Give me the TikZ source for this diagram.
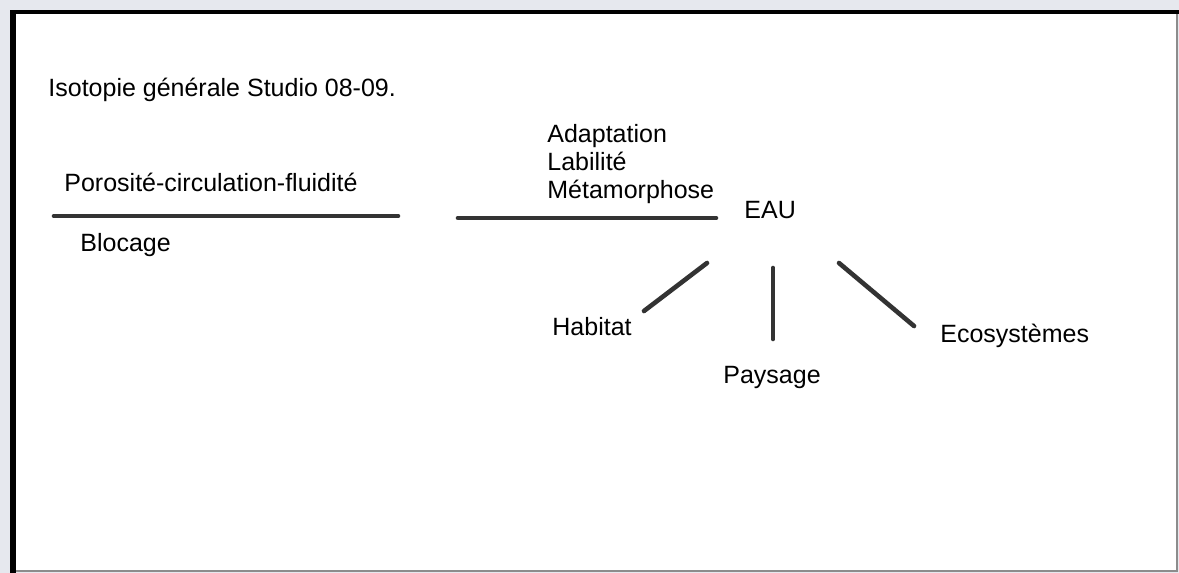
\documentclass[tikz,border=0pt]{standalone}
\usepackage{fontspec}
\setmainfont{Liberation Sans}
\usepackage{xcolor}
\definecolor{pagebg}{HTML}{E6E8EE}
\definecolor{rulegray}{HTML}{333333}
\definecolor{edgegray}{HTML}{8C8C8C}
\begin{document}
\begin{tikzpicture}[x=0.5pt, y=-0.5pt,
  lbl/.style={anchor=base west, inner sep=0pt, text=black,
    font=\fontsize{12.5}{14}\selectfont},
  bar/.style={draw=rulegray, line width=2.3pt, line cap=round}
]
  % page and frame
  \fill[pagebg] (0,0) rectangle (1179,573);
  \useasboundingbox (0,0) rectangle (1179,573);
  \fill[white] (13,12) rectangle (1177,571);
  \draw[edgegray, line width=1pt] (1177,12) -- (1177,571) -- (13,571);
  \draw[black, line width=3pt] (13,573) -- (13,10);
  \draw[black, line width=2pt] (10,12) -- (1179,12);

  \node[lbl] (titre)   at (48,96)   {Isotopie générale Studio 08-09.};
  \node[lbl] (poro)    at (64,191)  {Porosité-circulation-fluidité};
  \node[lbl] (bloc)    at (80,251)  {Blocage};
  \node[lbl] (adapt)   at (547,142) {Adaptation};
  \node[lbl] (labil)   at (547,170) {Labilité};
  \node[lbl] (meta)    at (547,198) {Métamorphose};
  \node[lbl] (eau)     at (744,218) {EAU};
  \node[lbl] (habitat) at (552,335) {Habitat};
  \node[lbl] (paysage) at (723,383) {Paysage};
  \node[lbl] (ecosys)  at (940,342) {Ecosystèmes};

  % bar ends
  \coordinate (barA1) at (54,216);
  \coordinate (barA2) at (398,216);
  \coordinate (barB1) at (458,218);
  \coordinate (barB2) at (716,218);
  \coordinate (habT) at (707,263);
  \coordinate (habB) at (644,311);
  \coordinate (payT) at (773,268);
  \coordinate (payB) at (773,339);
  \coordinate (ecoT) at (839,263);
  \coordinate (ecoB) at (914,326);

  \draw[bar] (barA1) -- (barA2);
  \draw[bar] (barB1) -- (barB2);
  \draw[bar] (habT) -- (habB);
  \draw[bar] (payT) -- (payB);
  \draw[bar] (ecoT) -- (ecoB);
\end{tikzpicture}
\end{document}
